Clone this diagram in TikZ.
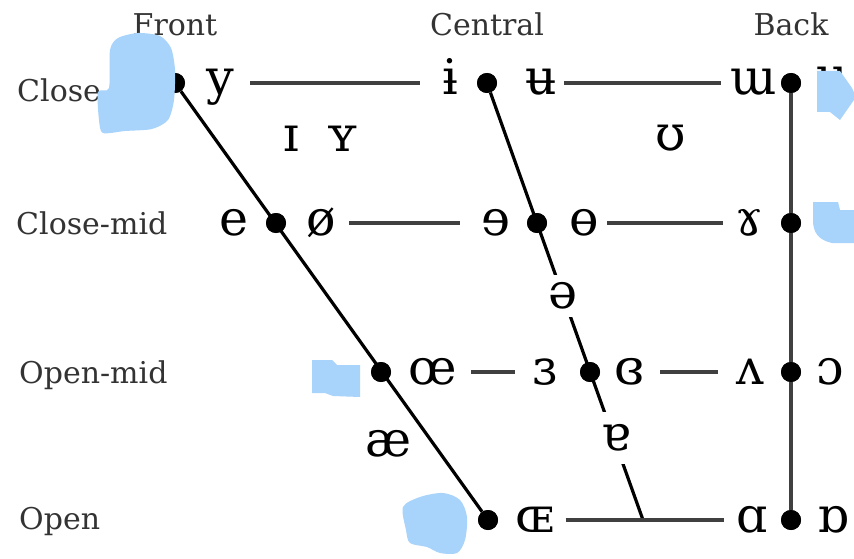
\documentclass[tikz,border=0pt]{standalone}
\usepackage{fontspec}
\newfontfamily\ipafont{DejaVu Serif}
\newfontfamily\labfont{DejaVu Serif}
\definecolor{blobblue}{RGB}{168,211,250}
\tikzset{
  vw/.style={font=\ipafont\fontsize{49}{49}\selectfont, text height=30pt, text depth=6pt, inner xsep=0pt, inner ysep=0pt, anchor=center},
  dotn/.style={circle, fill=black, inner sep=0pt, minimum size=20pt},
  ln/.style={line width=3.2pt, black},
  hl/.style={line width=3.2pt, black!75},
  lab/.style={font=\labfont\fontsize{30}{30}\selectfont, text=black!80, inner sep=0pt},
  blobfill/.style={fill=blobblue, draw=none},
}
\begin{document}
\begin{tikzpicture}[x=1pt,y=-1pt]
\useasboundingbox[fill=white] (0,0) rectangle (854,559);

% headers
\node[lab, anchor=base] (hfront) at (175,36) {Front};
\node[lab, anchor=base] (hcentral) at (487,36) {Central};
\node[lab, anchor=base] (hback) at (791,36) {Back};
% row labels
\node[lab, anchor=base west] (rclose) at (17,102) {Close};
\node[lab, anchor=base west] (rclosemid) at (16,234) {Close-mid};
\node[lab, anchor=base west] (ropenmid) at (19,383) {Open-mid};
\node[lab, anchor=base west] (ropen) at (19,529) {Open};

% dots
\node[dotn] (f1) at (175,83) {};
\node[dotn] (f2) at (276,223) {};
\node[dotn] (f3) at (381,372) {};
\node[dotn] (f4) at (488,520) {};
\node[dotn] (c1) at (487,83) {};
\node[dotn] (c2) at (537,223) {};
\node[dotn] (c3) at (590,372) {};
\coordinate (c4) at (643,520);
\node[dotn] (b1) at (791,83) {};
\node[dotn] (b2) at (791,223) {};
\node[dotn] (b3) at (791,372) {};
\node[dotn] (b4) at (791,520) {};

% vowels: close
\node[vw] (vy) at (220,83) {y};
\node[vw] (vibar) at (450,83) {ɨ};
\node[vw] (vubar) at (541,83) {ʉ};
\node[vw] (vturnm) at (754,83) {ɯ};
\node[vw] (vu) at (832,81) {u};
% near-close
\node[vw] (vsmi) at (291,140) {ɪ};
\node[vw] (vsmy) at (343,140) {ʏ};
\node[vw] (vups) at (671,138) {ʊ};
% close-mid
\node[vw] (ve) at (234,223) {e};
\node[vw] (voslash) at (321,223) {ø};
\node[vw] (vreve) at (496,223) {ɘ};
\node[vw] (vbaro) at (584,223) {ɵ};
\node[vw] (vrams) at (749,223) {ɤ};
% open-mid
\node[vw] (voe) at (433,372) {œ};
\node[vw] (vreveps) at (545,372) {ɜ};
\node[vw] (vcloseps) at (630,372) {ɞ};
\node[vw] (vturnv) at (750,372) {ʌ};
\node[vw] (vopeno) at (830,372) {ɔ};
% near-open
\node[vw] (vae) at (389,444) {æ};
% open
\node[vw] (vOE) at (535,520) {ɶ};
\node[vw] (valpha) at (752,520) {ɑ};
\node[vw] (vturnalpha) at (833,520) {ɒ};

% skeleton lines
\draw[ln] (f1) -- (f4);
\draw[ln] (c1) -- (c4);
\draw[hl] (b1) -- (b4);

% mid-central vowels with gaps in the central line
\node[vw, fill=white, inner ysep=3pt] (vschwa) at (563,296) {ə};
\node[vw, fill=white, inner ysep=8pt] (vturna) at (616,438) {ɐ};

% horizontal lines
\draw[hl, shorten <=16pt, shorten >=22pt] (vy) -- (vibar);
\draw[hl, shorten <=7pt, shorten >=10pt] (vubar) -- (vturnm);
\draw[hl, shorten <=13pt, shorten >=21pt] (voslash) -- (vreve);
\draw[hl, shorten <=8pt, shorten >=12pt] (vbaro) -- (vrams);
\draw[hl, shorten <=14pt, shorten >=17pt] (voe) -- (vreveps);
\draw[hl, shorten <=15pt, shorten >=18pt] (vcloseps) -- (vturnv);
\draw[hl, shorten <=11pt, shorten >=12pt] (vOE) -- (valpha);

% dots redrawn on top
\foreach \d in {f1,f2,f3,f4,c1,c2,c3,b1,b2,b3,b4} {\fill (\d) circle (10pt);}

% blue blobs
\fill[blobfill] plot[smooth cycle, tension=0.45] coordinates {(110,50) (118,38) (138,33) (160,36) (171,48) (175,70) (174,100) (168,120) (152,129) (125,131) (103,133) (99,120) (98,92) (109,88)};
\fill[blobfill] (817,71) -- (840,71) -- (852,88) -- (856,97) -- (840,120) -- (830,112) -- (817,112) -- cycle;
\fill[blobfill] (813,202) -- (838,202) -- (840,210) -- (856,210) -- (856,243) -- (832,243) .. controls (818,240) and (813,232) .. (813,220) -- cycle;
\fill[blobfill] (312,360) -- (332,360) -- (337,365) -- (360,365) -- (360,397) -- (333,396) -- (325,393) -- (312,393) -- cycle;
\fill[blobfill] plot[smooth cycle, tension=0.5] coordinates {(403,507) (420,497) (443,493) (460,500) (467,517) (465,540) (457,553) (440,553) (427,547) (410,543) (406,530)};
\end{tikzpicture}
\end{document}
